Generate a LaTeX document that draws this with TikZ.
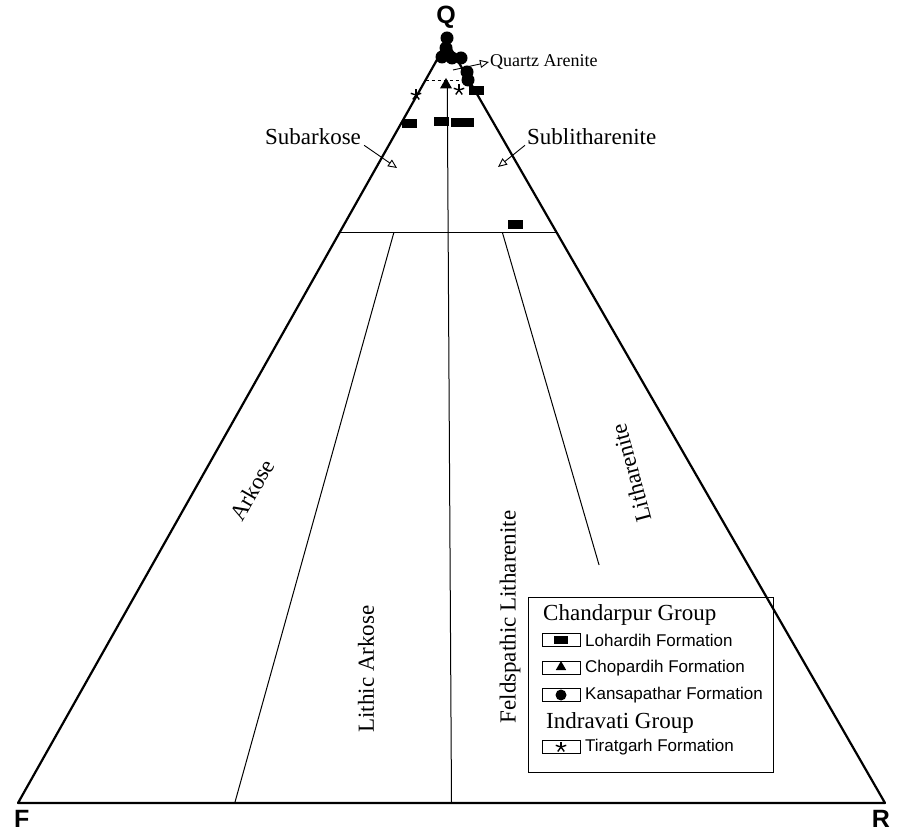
\documentclass[tikz,border=0pt]{standalone}
\usepackage{fontspec}
\setmainfont{Liberation Serif}
\setsansfont{Liberation Sans}
\usetikzlibrary{arrows.meta,calc,shapes.geometric}
\tikzset{
	lbl/.style={font=\fontsize{23}{25}\selectfont, inner sep=0pt},
	grp/.style={font=\fontsize{23}{25}\selectfont, anchor=west, inner sep=0pt},
	leg/.style={font=\sffamily\fontsize{17}{19}\selectfont, anchor=west, inner sep=0pt},
	corner/.style={font=\sffamily\bfseries\fontsize{25}{27}\selectfont, inner sep=0pt},
	pointer/.style={-{Triangle[open,length=9pt,width=8pt]}, line width=0.9pt},
	keybox/.style={draw, line width=0.8pt, minimum width=38pt, minimum height=13pt, inner sep=0pt},
	sqmark/.style={rectangle, fill, minimum width=15pt, minimum height=9pt, inner sep=0pt},
	trimark/.style={regular polygon, regular polygon sides=3, fill, minimum size=14pt, inner sep=0pt},
	dotmark/.style={circle, fill, minimum size=13pt, inner sep=0pt},
	astmark/.pic={\foreach \a in {18,90,162,234,306} \draw[line width=1.4pt] (0,0) -- (\a:5.5);}
}
\begin{document}
\begin{tikzpicture}[x=1pt,y=1pt]
	\useasboundingbox (0,0) rectangle (901,835);
	% corners of the QFR triangle
	\coordinate (F) at (18,32);
	\coordinate (R) at (885,32);
	\coordinate (Q) at (447,793);
	\coordinate (a1) at ($(F)!0.75!(Q)$);
	\coordinate (a2) at ($(R)!0.75!(Q)$);
	\coordinate (d1) at ($(F)!0.95!(Q)$);
	\coordinate (d2) at ($(R)!0.95!(Q)$);
	\coordinate (r1) at ($(a1)!0.75!(a2)$);
	\coordinate (r0) at ($(F)!0.75!(R)$);
	\draw[line width=2.2pt, line join=round] (F) -- (Q) -- (R) -- cycle;
	\draw[line width=1pt] (a1) -- (a2);
	\draw[dashed, line width=0.6pt] (d1) -- (d2);
	\draw[line width=1pt] ($(a1)!0.25!(a2)$) -- ($(F)!0.25!(R)$);
	\draw[line width=1pt] ($(d1)!0.5!(d2)$) -- ($(F)!0.5!(R)$);
	\draw[line width=1pt] (r1) -- ($(r1)!0.583!(r0)$);
	\node[corner, anchor=north west] (lF) at (14,25) {F};
	\node[corner, anchor=north east] (lR) at (890,25) {R};
	\node[corner] (lQ) at (446,818) {Q};

	% field names
	\node[lbl] (subark) at (313,698) {Subarkose};
	\node[lbl, anchor=west] (sublit) at (527,698) {Sublitharenite};
	\node[lbl, font=\fontsize{18}{20}\selectfont, anchor=west] (qz) at (490,773) {Quartz Arenite};
	\node[lbl, rotate=60] (ark) at (252,345) {Arkose};
	\node[lbl, rotate=90] (lark) at (366,166) {Lithic Arkose};
	\node[lbl, rotate=90] (flit) at (510,218) {Feldspathic Litharenite};
	\node[lbl, rotate=105] (lit) at (631,362) {Litharenite};
	\coordinate (subTip) at (397,667);
	\coordinate (litTip) at (498,668);
	\coordinate (qzFoot) at (453,765);
	\draw[pointer] ([xshift=3pt]subark.south east) -- (subTip);
	\draw[pointer] ([xshift=-2pt]sublit.south west) -- (litTip);
	\draw[pointer] (qzFoot) -- ([xshift=-1pt]qz.west);

	% samples
	\foreach \p in {(447,797),(446,787),(442,778),(452,777),(461,777),(467,763),(468,755)}
		\node[dotmark] at \p {};
	\node[trimark] at (446,750) {};
	\pic at (416,740) {astmark};
	\pic at (459,745) {astmark};
	\foreach \p in {(476,744),(409,711),(441,713),(458,712),(466,712),(515,610)}
		\node[sqmark] at \p {};

	% legend
	\draw[line width=0.8pt] (528,63) rectangle (773,238);
	\node[grp] (gChan) at (543,220) {Chandarpur Group};
	\node[keybox] (kLoh) at (561,195) {};
	\node[sqmark, minimum width=14pt, minimum height=8pt] at (kLoh) {};
	\node[leg] (tLoh) at (585,195) {Lohardih Formation};
	\node[keybox] (kCho) at (561,167) {};
	\node[trimark, minimum size=12pt] at ([yshift=1pt]kCho) {};
	\node[leg] (tCho) at (585,167) {Chopardih Formation};
	\node[keybox] (kKan) at (561,140) {};
	\node[dotmark, minimum size=11pt] at (kKan) {};
	\node[leg] (tKan) at (585,140) {Kansapathar Formation};
	\node[grp] (gInd) at (546,112) {Indravati Group};
	\node[keybox] (kTir) at (561,88) {};
	\pic at (kTir) {astmark};
	\node[leg] (tTir) at (585,88) {Tiratgarh Formation};
\end{tikzpicture}
\end{document}
